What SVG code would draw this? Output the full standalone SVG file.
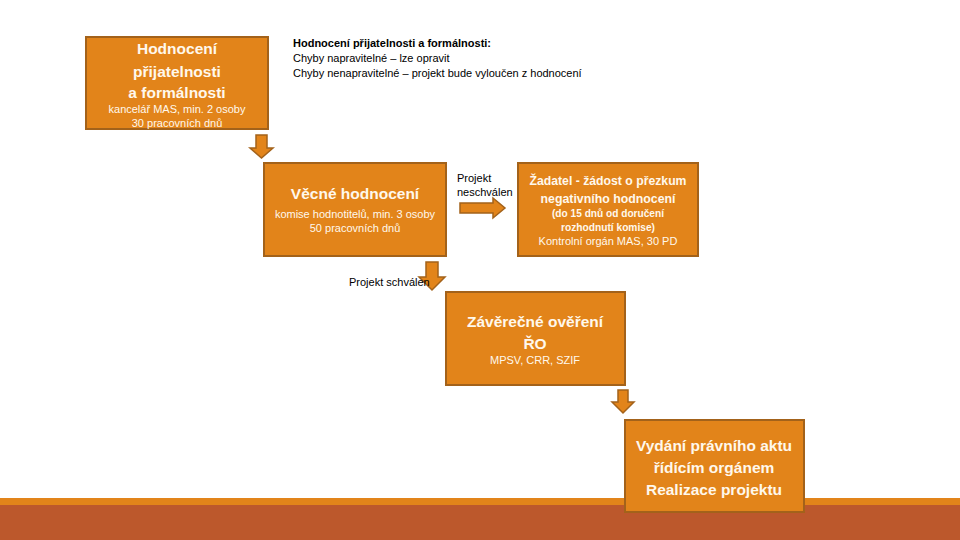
<svg xmlns="http://www.w3.org/2000/svg" width="960" height="540" viewBox="0 0 960 540">
<style>
.box{fill:#E2841A;stroke:#A3621A;stroke-width:2}
.arr{fill:#E2841A;stroke:#A3621A;stroke-width:1.5;stroke-linejoin:miter}
text{font-family:"Liberation Sans",Arial,sans-serif}
.t{fill:#FFF8EC;font-weight:bold;font-size:15.5px;text-anchor:middle}
.t3{fill:#FFF8EC;font-weight:bold;font-size:12.5px;text-anchor:middle}
.s{fill:#FFF8EC;font-size:11px;text-anchor:middle}
.sb{fill:#FFF8EC;font-size:10.5px;font-weight:bold;text-anchor:middle}
.k{fill:#000;font-size:11px}
</style>
<rect x="0" y="498" width="960" height="7" fill="#E2841A"/>
<rect x="0" y="505" width="960" height="35" fill="#BC582C"/>
<g id="note">
<text class="k" x="293" y="47" font-weight="bold">Hodnocení přijatelnosti a formálnosti:</text>
<text class="k" x="293" y="62">Chyby napravitelné – lze opravit</text>
<text class="k" x="293" y="77">Chyby nenapravitelné – projekt bude vyloučen z hodnocení</text>
</g>
<g id="connectors">
<polygon class="arr" points="256,135 267,135 267,148 273,148 261.5,158 250,148 256,148"/>
<polygon class="arr" points="460,203 493,203 493,198 505,208 493,218 493,213 460,213"/>
<polygon class="arr" points="426,262 438,262 438,277 445,277 432,290 419,277 426,277"/>
<polygon class="arr" points="618,390 628,390 628,402 634,402 623,413 612,402 618,402"/>
<text class="k" x="457" y="182">Projekt</text>
<text class="k" x="457" y="196">neschválen</text>
<text class="k" x="349" y="286">Projekt schválen</text>
</g>
<g id="n1">
<rect class="box" x="86" y="37" width="182" height="92"/>
<text class="t" x="177" y="54">Hodnocení</text>
<text class="t" x="177" y="77">přijatelnosti</text>
<text class="t" x="177" y="98">a formálnosti</text>
<text class="s" x="177" y="113">kancelář MAS, min. 2 osoby</text>
<text class="s" x="177" y="127">30 pracovních dnů</text>
</g>
<g id="n2">
<rect class="box" x="264" y="163" width="182" height="93"/>
<text class="t" x="355" y="199">Věcné hodnocení</text>
<text class="s" x="355" y="218">komise hodnotitelů, min. 3 osoby</text>
<text class="s" x="355" y="232">50 pracovních dnů</text>
</g>
<g id="n3">
<rect class="box" x="518" y="163" width="180" height="93"/>
<text class="t3" x="608" y="185" textLength="157" lengthAdjust="spacingAndGlyphs">Žadatel - žádost o přezkum</text>
<text class="t3" x="608" y="203" textLength="135" lengthAdjust="spacingAndGlyphs">negativního hodnocení</text>
<text class="sb" x="608" y="217" textLength="112" lengthAdjust="spacingAndGlyphs">(do 15 dnů od doručení</text>
<text class="sb" x="608" y="231" textLength="94" lengthAdjust="spacingAndGlyphs">rozhodnutí komise)</text>
<text class="s" x="608" y="245">Kontrolní orgán MAS, 30 PD</text>
</g>
<g id="n4">
<rect class="box" x="446" y="292" width="179" height="93"/>
<text class="t" x="535" y="327">Závěrečné ověření</text>
<text class="t" x="535" y="349">ŘO</text>
<text class="s" x="535" y="364">MPSV, CRR, SZIF</text>
</g>
<g id="n5">
<rect class="box" x="625" y="420" width="179" height="92"/>
<text class="t" x="714" y="451">Vydání právního aktu</text>
<text class="t" x="714" y="473">řídícím orgánem</text>
<text class="t" x="714" y="495">Realizace projektu</text>
</g>
</svg>
